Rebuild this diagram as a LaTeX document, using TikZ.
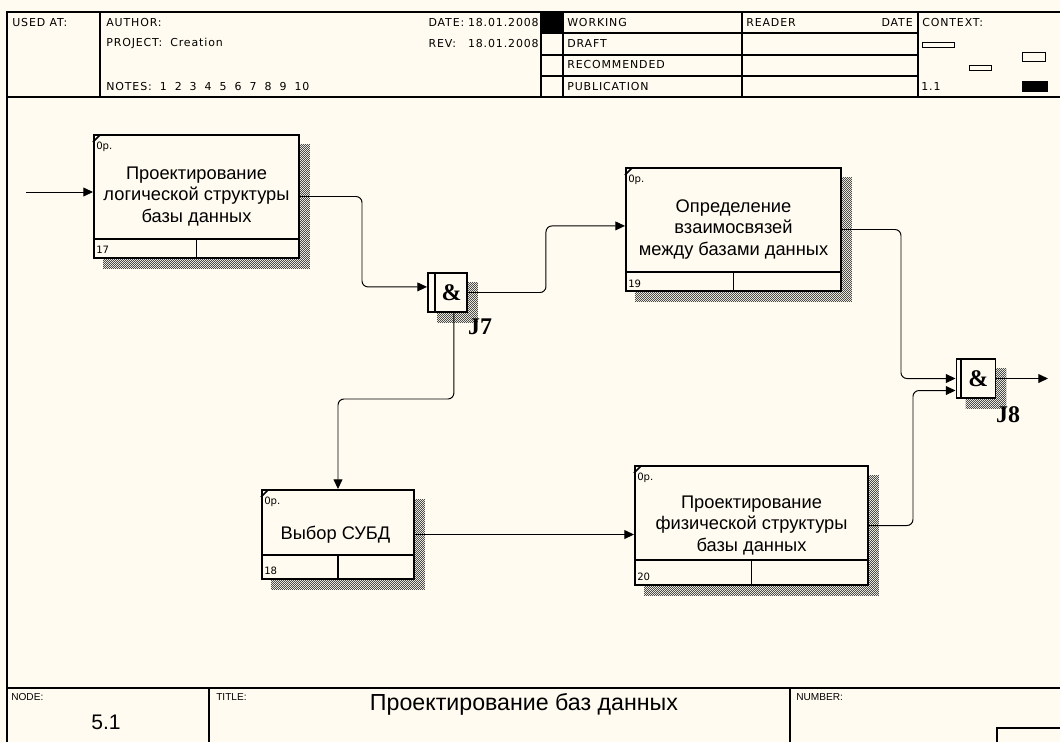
\documentclass[tikz,border=0pt]{standalone}
\usepackage{fontspec}
\setmainfont{Liberation Sans}
\newfontfamily\hdrfont{DejaVu Sans}[LetterSpace=8]
\newfontfamily\tagfont{DejaVu Sans}
\newfontfamily\jfont{Liberation Serif}
\usepackage{xcolor}
\usepackage{tikz}
\usetikzlibrary{
    positioning,
    arrows.meta,
    calc,
    patterns.meta,
    backgrounds
}

\definecolor{paper}{RGB}{255,251,240}

\tikzdeclarepattern{
    name=finecheck,
    type=uncolored,
    bounding box={(0,0) and (1.4pt,1.4pt)},
    tile size={(1.4pt,1.4pt)},
    code={
        \fill (0,0) rectangle (0.7pt,0.7pt);
        \fill (0.7pt,0.7pt) rectangle (1.4pt,1.4pt);
    }
}

\newcommand{\nsp}{\hspace{2mm}}

\begin{document}
\begin{tikzpicture}[
    x=0.25mm,
    y=-0.25mm,
    frameline/.style={
        line width=0.8pt
    },
    activity/.style={
        rectangle,
        draw,
        line width=1.4pt,
        fill=paper,
        inner sep=0pt,
        align=center,
        font=\fontsize{13}{15}\selectfont
    },
    junction/.style={
        rectangle,
        draw,
        line width=1.4pt,
        fill=paper,
        inner sep=0pt,
        minimum width=9.75mm,
        minimum height=9.75mm,
        font=\jfont\bfseries\fontsize{17}{17}\selectfont
    },
    hatch/.style={
        pattern={finecheck},
        pattern color=black!70
    },
    hdr/.style={
        font=\hdrfont\fontsize{7.8}{9}\selectfont,
        inner sep=0pt,
        anchor=west
    },
    smalltag/.style={
        font=\tagfont\fontsize{7.2}{8}\selectfont,
        inner sep=0pt,
        anchor=west
    },
    foottag/.style={
        font=\fontsize{7.2}{8}\selectfont,
        inner sep=0pt,
        anchor=west
    },
    jlabel/.style={
        font=\jfont\bfseries\fontsize{17}{17}\selectfont,
        inner sep=0pt
    },
    divider/.style={
        line width=1.4pt
    },
    flow/.style={
        -{Triangle[length=2.4mm,width=2.2mm]},
        line width=0.7pt,
        rounded corners=1.5mm
    }
]

\useasboundingbox (0,0) rectangle (1060,742);

% ============================================================
% HEADER FRAME
% ============================================================

\draw[frameline] (7,742) -- (7,12) -- (1060,12);
\draw[frameline] (7,97) -- (1060,97);
\draw[frameline] (100,12) -- (100,97);
\draw[frameline] (541,12) -- (541,97);
\draw[frameline] (563,12) -- (563,97);
\draw[frameline] (742,12) -- (742,97);
\draw[frameline] (918,12) -- (918,97);
\draw[frameline] (541,33) -- (918,33);
\draw[frameline] (541,55) -- (918,55);
\draw[frameline] (541,76) -- (918,76);
\fill (541,12) rectangle (563,33);

\node[hdr] (usedat) at (12,22.5) {USED AT:};
\node[hdr] (author) at (106,22.5) {AUTHOR:};
\node[hdr] (project) at (106,43.5) {PROJECT:\nsp Creation};
\node[hdr] (notes) at (106,86.5)
{NOTES:\nsp 1\nsp 2\nsp 3\nsp 4\nsp 5\nsp 6\nsp 7\nsp 8\nsp 9\nsp 10};

\node[hdr, anchor=east] (dateval) at (539,22.5) {18.01.2008};
\node[hdr, anchor=east, left=0.8mm of dateval] (datelbl) {DATE:};
\node[hdr, anchor=east] (revval) at (539,43.5) {18.01.2008};
\node[hdr] (revlbl) at (datelbl.west |- revval) {REV:};

\node[hdr] (working) at (567,22.5) {WORKING};
\node[hdr] (draft) at (567,43.5) {DRAFT};
\node[hdr] (recommended) at (567,65) {RECOMMENDED};
\node[hdr] (publication) at (567,86.5) {PUBLICATION};

\node[hdr] (reader) at (746,22.5) {READER};
\node[hdr, anchor=east] (readerdate) at (913,22.5) {DATE};

\node[hdr] (context) at (922,22.5) {CONTEXT:};
\node[hdr] (ctxnum) at (921,86.5) {1.1};

\draw[line width=0.6pt] (922,42) rectangle (954,47);
\draw[line width=0.6pt] (969,65) rectangle (991,70);
\draw[line width=0.6pt] (1022,52) rectangle (1045,61);
\fill (1022,81) rectangle (1048,92);

% ============================================================
% FOOTER FRAME
% ============================================================

\draw[frameline] (7,688) -- (1060,688);
\draw[frameline] (209,688) -- (209,742);
\draw[frameline] (790,688) -- (790,742);
\draw[frameline] (1060,728) -- (997,728) -- (997,742);

\node[foottag] (nodelbl) at (11,697) {NODE:};
\node[font=\fontsize{15}{17}\selectfont] (nodenum) at (106,722) {5.1};
\node[foottag] (titlelbl) at (216,697) {TITLE:};
\node[font=\fontsize{16.5}{18}\selectfont] (title) at (524,704)
{Проектирование баз данных};
\node[foottag] (numberlbl) at (796,697) {NUMBER:};

% ============================================================
% ACTIVITIES
% ============================================================

\node[activity, minimum width=51.25mm, minimum height=30.75mm] (b17)
    at (196.5,196.5)
{
Проектирование\\
логической структуры\\
базы данных
};

\node[activity, minimum width=53.75mm, minimum height=30.75mm] (b19)
    at (733.5,229.5)
{
Определение\\
взаимосвязей\\
между базами данных
};

\node[activity, minimum width=38mm, minimum height=22.25mm] (b18)
    at (338,534.5)
{
Выбор СУБД
};

\node[activity, minimum width=58.25mm, minimum height=29.75mm] (b20)
    at (751.5,525.5)
{
Проектирование\\
физической структуры\\
базы данных
};

% box 17 details
\draw[divider] ($(b17.south west)+(0,-20)$) -- ($(b17.south east)+(0,-20)$);
\draw[divider] (b17.south) -- ++(0,-20);
\draw[line width=1.2pt] ($(b17.north west)+(0,8)$) -- ++(7,-7);
\node[smalltag] (b17cost) at ($(b17.north west)+(3,13)$) {0р.};
\node[smalltag] (b17num) at ($(b17.south west)+(3,-9)$) {17};

% box 19 details
\draw[divider] ($(b19.south west)+(0,-20)$) -- ($(b19.south east)+(0,-20)$);
\draw[divider] (b19.south) -- ++(0,-20);
\draw[line width=1.2pt] ($(b19.north west)+(0,8)$) -- ++(7,-7);
\node[smalltag] (b19cost) at ($(b19.north west)+(3,13)$) {0р.};
\node[smalltag] (b19num) at ($(b19.south west)+(3,-8)$) {19};

% box 18 details
\draw[divider] ($(b18.south west)+(0,-25)$) -- ($(b18.south east)+(0,-25)$);
\draw[divider] (b18.south) -- ++(0,-25);
\draw[line width=1.2pt] ($(b18.north west)+(0,8)$) -- ++(7,-7);
\node[smalltag] (b18cost) at ($(b18.north west)+(3,13)$) {0р.};
\node[smalltag] (b18num) at ($(b18.south west)+(3,-9)$) {18};

% box 20 details
\draw[divider] ($(b20.south west)+(0,-26)$) -- ($(b20.south east)+(0,-26)$);
\draw[divider] (b20.south) -- ++(0,-26);
\draw[line width=1.2pt] ($(b20.north west)+(0,8)$) -- ++(7,-7);
\node[smalltag] (b20cost) at ($(b20.north west)+(3,13)$) {0р.};
\node[smalltag] (b20num) at ($(b20.south west)+(3,-9)$) {20};

% ============================================================
% JUNCTIONS
% ============================================================

\node[junction] (j7) at (447.5,292.5) {\hspace*{2mm}\&};
\draw[divider] ($(j7.north west)+(8,0)$) -- ($(j7.south west)+(8,0)$);
\node[jlabel] (j7name) at (480,327) {J7};

\node[junction] (j8) at (976,378.5) {\hspace*{1.2mm}\&};
\draw[divider] ($(j8.north west)+(5,0)$) -- ($(j8.south west)+(5,0)$);
\node[jlabel] (j8name) at (1008,415) {J8};

% ============================================================
% SHADOWS
% ============================================================

\begin{scope}[on background layer]
\fill[paper] (0,0) rectangle (1060,742);
\fill[hatch] ($(b17.south west)+(10,10)$) rectangle ($(b17.north east)+(10,10)$);
\fill[hatch] ($(b19.south west)+(10,10)$) rectangle ($(b19.north east)+(10,10)$);
\fill[hatch] ($(b18.south west)+(10,10)$) rectangle ($(b18.north east)+(10,10)$);
\fill[hatch] ($(b20.south west)+(10,10)$) rectangle ($(b20.north east)+(10,10)$);
\fill[hatch] ($(j7.south west)+(10,10)$) rectangle ($(j7.north east)+(10,10)$);
\fill[hatch] ($(j8.south west)+(10,10)$) rectangle ($(j8.north east)+(10,10)$);
\end{scope}

% ============================================================
% CONNECTIONS
% ============================================================

\coordinate (in17) at (26,192);
\coordinate (out8) at (1048,378.5);

\draw[flow] (in17) -- (in17 -| b17.west);
\draw[flow] (b17.east) -| (362,240) |- ([yshift=1.4mm]j7.west);
\draw[flow] (j7.east) -- ++(78,0) |- ([yshift=0.9mm]b19.west);
\draw[flow] ([xshift=1.6mm]j7.south) -- ++(0,86) -| (b18.north);
\draw[flow] (b18.east) -- (b18.east -| b20.west);
\draw[flow] (b19.east) -- ++(59,0) |- (j8.west);
\draw[flow] (b20.east) -- ++(44,0) |- ([yshift=-3mm]j8.west);
\draw[flow] (j8.east) -- (out8);

\end{tikzpicture}
\end{document}
